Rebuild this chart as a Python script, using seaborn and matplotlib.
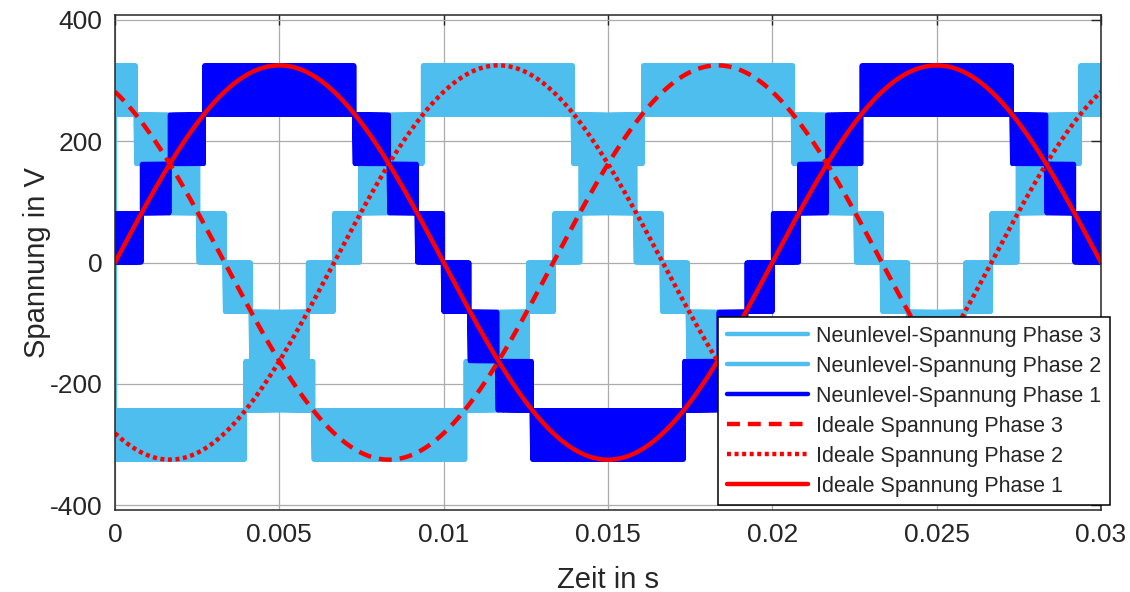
import numpy as np
import pandas as pd
import matplotlib
matplotlib.use("Agg")
import matplotlib.pyplot as plt
import seaborn as sns

# --- signal parameters -------------------------------------------------------
AMPLITUDE = 325.0            # peak phase voltage in V
FREQ_HZ = 50.0               # grid frequency
CARRIER_HZ = 20000.0         # PWM carrier frequency
T_END = 0.03                 # simulated time span in s
PHASE_DEG = [0.0, -120.0, 120.0]          # phase 1, 2, 3
LEVELS = np.array([-325.0, -243.75, -162.5, -81.25, 0.0,
                   81.25, 162.5, 243.75, 325.0])  # nine inverter levels

PWM_LABELS = ["Neunlevel-Spannung Phase 1", "Neunlevel-Spannung Phase 2",
              "Neunlevel-Spannung Phase 3"]
IDEAL_LABELS = ["Ideale Spannung Phase 1", "Ideale Spannung Phase 2",
                "Ideale Spannung Phase 3"]
X_TICKS = [0, 0.005, 0.01, 0.015, 0.02, 0.025, 0.03]
X_TICK_LABELS = ["0", "0.005", "0.01", "0.015", "0.02", "0.025", "0.03"]
Y_TICKS = [-400, -200, 0, 200, 400]

LIGHT_BLUE = "#4DBEEE"
BLUE = "#0000FF"
RED = "#FF0000"
TEXT = "#262626"


def ideal_voltage(t, phase_deg):
    return AMPLITUDE * np.sin(2 * np.pi * FREQ_HZ * t + np.deg2rad(phase_deg))


def nine_level_pwm(phase_deg, start_at_zero=False):
    """Centre-aligned PWM between the two levels that bracket the reference."""
    tc = 1.0 / CARRIER_HZ
    n = int(round(T_END * CARRIER_HZ))
    t0 = np.arange(n) * tc
    ref = ideal_voltage(t0 + tc / 2, phase_deg)
    idx = np.clip(np.searchsorted(LEVELS, ref, side="right") - 1, 0, len(LEVELS) - 2)
    lo, hi = LEVELS[idx], LEVELS[idx + 1]
    duty = np.clip((ref - lo) / (hi - lo), 0, 1)
    a = t0 + (1 - duty) / 2 * tc
    b = t0 + (1 + duty) / 2 * tc
    t = np.column_stack([t0, a, a, b, b]).ravel()
    v = np.column_stack([lo, lo, hi, hi, lo]).ravel()
    if start_at_zero:
        t = np.concatenate([[0.0], t])
        v = np.concatenate([[0.0], v])
    return pd.DataFrame({"t": t, "v": v})


sns.set_style("white")
plt.rcParams["font.family"] = ["Liberation Sans", "DejaVu Sans"]
plt.rcParams["axes.unicode_minus"] = False
plt.rcParams["text.color"] = TEXT
plt.rcParams["axes.labelcolor"] = TEXT
plt.rcParams["xtick.color"] = TEXT
plt.rcParams["ytick.color"] = TEXT

fig = plt.figure(figsize=(11.3, 5.92), dpi=100)
ax = fig.add_axes([115 / 1130, 1 - 510 / 592, (1101 - 115) / 1130, (510 - 15) / 592])

LW = 3.2
handles = {}

# inverter output, phase 3 and 2 first so phase 1 sits on top
for i, color in [(2, LIGHT_BLUE), (1, LIGHT_BLUE), (0, BLUE)]:
    df = nine_level_pwm(PHASE_DEG[i], start_at_zero=(i != 0))
    sns.lineplot(data=df, x="t", y="v", ax=ax, color=color, linewidth=LW,
                 estimator=None, sort=False, solid_joinstyle="round",
                 solid_capstyle="round")
    handles[PWM_LABELS[i]] = ax.lines[-1]

# ideal sine references
t_ideal = np.linspace(0, T_END, 3001)
dash_styles = {0: None, 1: (0.9, 0.8), 2: (2.9, 1.8)}
for i in [2, 1, 0]:
    df = pd.DataFrame({"t": t_ideal, "v": ideal_voltage(t_ideal, PHASE_DEG[i])})
    sns.lineplot(data=df, x="t", y="v", ax=ax, color=RED, linewidth=LW,
                 estimator=None, sort=False)
    line = ax.lines[-1]
    if dash_styles[i] is not None:
        line.set_dashes(dash_styles[i])
    handles[IDEAL_LABELS[i]] = line

ax.set_xlim(0, T_END)
ax.set_ylim(-408, 408)
ax.set_xticks(X_TICKS)
ax.set_xticklabels(X_TICK_LABELS)
ax.set_yticks(Y_TICKS)
ax.tick_params(direction="in", length=7, width=1.0, labelsize=19,
               top=True, right=True, pad=9)
ax.grid(True, color="#acacac", linewidth=0.9)
ax.set_axisbelow(True)
for s in ax.spines.values():
    s.set_color(TEXT)
    s.set_linewidth(1.1)
    s.set_visible(True)

ax.set_xlabel("Zeit in s", fontsize=21, labelpad=14)
ax.set_ylabel("Spannung in V", fontsize=21, labelpad=-1)

order = [PWM_LABELS[2], PWM_LABELS[1], PWM_LABELS[0],
         IDEAL_LABELS[2], IDEAL_LABELS[1], IDEAL_LABELS[0]]
leg = ax.legend([handles[k] for k in order], order, loc="upper left",
                bbox_to_anchor=(718 / 1130, 1 - 317 / 592),
                bbox_transform=fig.transFigure, borderaxespad=0,
                fontsize=15.5, handlelength=3.8, handletextpad=0.35,
                labelspacing=0.42, borderpad=0.4, fancybox=False,
                framealpha=1, edgecolor="black")
leg.get_frame().set_linewidth(1.1)

fig.savefig("out.png", dpi=100)
